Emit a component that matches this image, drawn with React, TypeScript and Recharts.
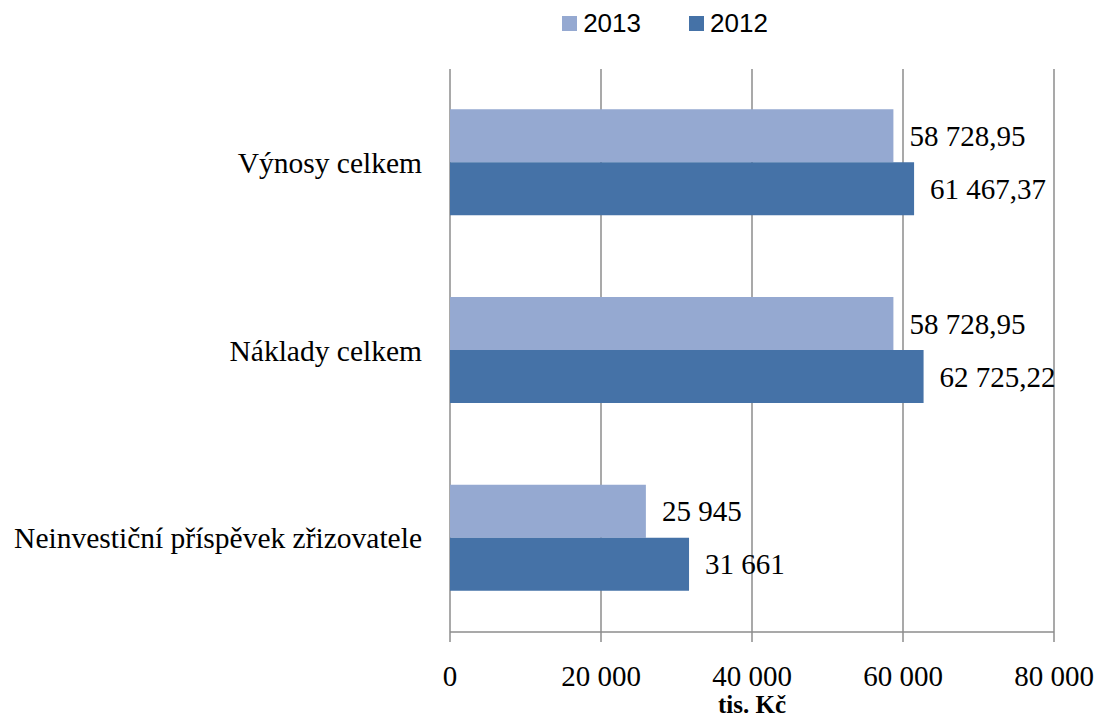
// Horizontal grouped bars: income, costs and founder contribution, 2013 vs 2012.

import { BarChart, Bar, XAxis, YAxis, CartesianGrid, Legend, LabelList } from 'recharts';

const categories = ['Výnosy celkem', 'Náklady celkem', 'Neinvestiční příspěvek zřizovatele'];
const values2013 = [58728.95, 58728.95, 25945];
const values2012 = [61467.37, 62725.22, 31661];
const xTicks = [0, 20000, 40000, 60000, 80000];
const categoryEdges = [0, 1, 2, 3];

const LIGHT = '#95a9d1';
const DARK = '#4572a7';
const GRID = '#8c8c8c';
const SERIF = "'Liberation Serif', 'DejaVu Serif', serif";
const SANS = "'Liberation Sans Narrow', 'Liberation Sans', sans-serif";

const data = categories.map((name, i) => ({
  name,
  y2013: values2013[i],
  y2012: values2012[i],
}));

// "58 728,95" style: space thousands, comma decimals
function fmt(v: number) {
  const [int, dec] = v.toFixed(2).split('.');
  const grouped = int.replace(/\B(?=(\d{3})+(?!\d))/g, ' ');
  return Number.isInteger(v) ? grouped : `${grouped},${dec}`;
}

function CategoryTick({ x, y, payload }: any) {
  return (
    <text x={x} y={y} dy={10} textAnchor="end" fontFamily={SERIF} fontSize={29.5} fill="#000">
      {payload.value}
    </text>
  );
}

function LegendContent() {
  const items = [
    { label: '2013', color: LIGHT },
    { label: '2012', color: DARK },
  ];
  return (
    <div style={{ display: 'flex', justifyContent: 'center', gap: 48, fontFamily: SANS, fontSize: 26, color: '#000' }}>
      {items.map((it) => (
        <div key={it.label} style={{ display: 'flex', alignItems: 'center' }}>
          <span style={{ width: 15, height: 15, background: it.color, marginRight: 6, display: 'inline-block' }} />
          {it.label}
        </div>
      ))}
    </div>
  );
}

export default function App() {
  return (
    <div style={{ position: 'absolute', left: 0, top: 0 }}>
      <BarChart
        layout="vertical"
        width={1097}
        height={720}
        data={data}
        margin={{ top: 38, right: 43, bottom: 0, left: 0 }}
        barCategoryGap="21.5%"
        barGap={0}
      >
        <CartesianGrid horizontal={false} stroke={GRID} strokeWidth={1.5} />
        <Legend
          verticalAlign="top"
          content={<LegendContent />}
          wrapperStyle={{ position: 'absolute', top: 8, left: 0, width: 1330 }}
        />
        <XAxis
          type="number"
          domain={[0, 80000]}
          ticks={xTicks}
          tickFormatter={fmt}
          stroke={GRID}
          strokeWidth={1.5}
          tickSize={10}
          tickMargin={23}
          height={88}
          tick={{ fill: '#000', fontFamily: SERIF, fontSize: 29 }}
          label={{ value: 'tis. Kč', position: 'insideBottom', offset: 7, fill: '#000', fontFamily: SERIF, fontSize: 25, fontWeight: 'bold' }}
        />
        <YAxis
          yAxisId="edges"
          type="number"
          domain={[0, 3]}
          ticks={categoryEdges}
          tickFormatter={() => ''}
          width={0}
          stroke={GRID}
          strokeWidth={1.5}
          tickSize={10}
        />
        <YAxis
          yAxisId="cat"
          type="category"
          dataKey="name"
          width={450}
          axisLine={false}
          tickLine={false}
          tickSize={0}
          tickMargin={28}
          tick={<CategoryTick />}
        />
        <Bar yAxisId="cat" dataKey="y2013" name="2013" fill={LIGHT} isAnimationActive={false}>
          <LabelList dataKey="y2013" position="right" offset={16} formatter={(v: any) => fmt(Number(v))} fill="#000" fontFamily={SERIF} fontSize={29} />
        </Bar>
        <Bar yAxisId="cat" dataKey="y2012" name="2012" fill={DARK} isAnimationActive={false}>
          <LabelList dataKey="y2012" position="right" offset={16} formatter={(v: any) => fmt(Number(v))} fill="#000" fontFamily={SERIF} fontSize={29} />
        </Bar>
      </BarChart>
    </div>
  );
}
